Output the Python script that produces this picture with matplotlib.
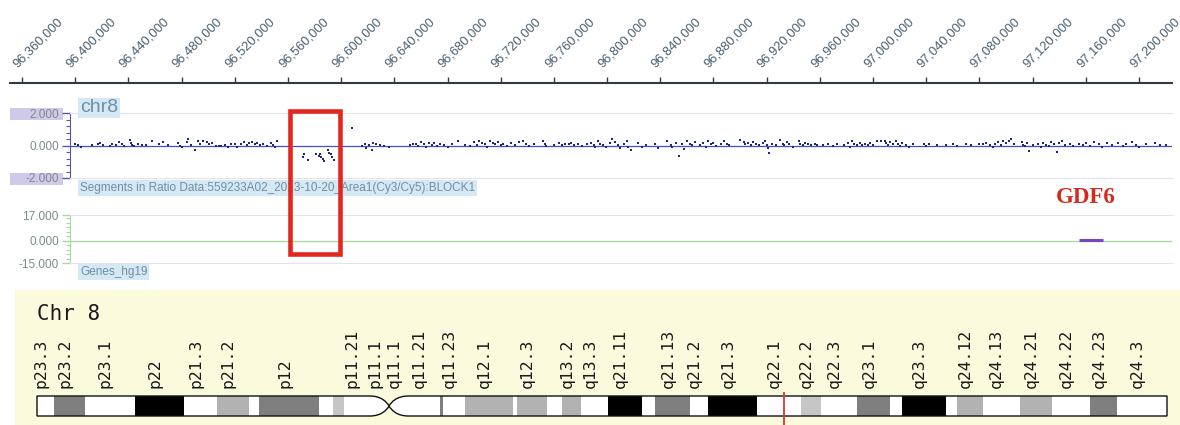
import matplotlib
matplotlib.use("Agg")
import matplotlib.pyplot as plt
from matplotlib.patches import Rectangle, PathPatch
from matplotlib.path import Path
from matplotlib.transforms import blended_transform_factory, ScaledTranslation
from matplotlib.ticker import MultipleLocator, FuncFormatter
import numpy as np

plt.rcParams['font.family'] = ['Liberation Sans', 'DejaVu Sans']

# ---------------------------------------------------------------- data
# genomic ruler (bp)
ruler_ticks = [96360000, 96400000, 96440000, 96480000, 96520000, 96560000,
               96600000, 96640000, 96680000, 96720000, 96760000, 96800000,
               96840000, 96880000, 96920000, 96960000, 97000000, 97040000,
               97080000, 97120000, 97160000, 97200000]
view_bp = (96350976, 97224812)

# log2 ratio probes (position in kb, log2 ratio)
probes_proximal = [
    (96400, 0.12), (96402, 0.05), (96404, -0.10), (96413, 0.02), (96417, 0.10),
    (96419, 0.18), (96421, 0.05), (96426, 0.00), (96428, 0.08), (96431, 0.04),
    (96433, 0.20), (96435, 0.10), (96437, -0.05), (96441, 0.35), (96442, 0.18),
    (96443, 0.05), (96444, -0.05), (96447, 0.12), (96450, 0.06), (96453, 0.02),
    (96458, 0.30), (96463, 0.10), (96466, 0.20), (96470, 0.05), (96477, 0.15),
    (96479, 0.00), (96480, -0.10), (96484, 0.20), (96485, 0.38), (96487, 0.05),
    (96490, -0.30), (96492, 0.28), (96494, 0.12), (96496, 0.30), (96499, 0.22),
    (96501, 0.08), (96503, 0.15), (96506, -0.02), (96508, -0.05), (96510, 0.00),
    (96513, 0.05), (96515, -0.08), (96517, 0.12), (96520, 0.10), (96522, -0.12),
    (96525, 0.08), (96527, 0.20), (96529, 0.05), (96531, 0.15), (96533, 0.20),
    (96535, 0.08), (96537, 0.15), (96539, 0.05), (96541, 0.12), (96544, -0.02),
    (96547, 0.18), (96549, 0.05), (96550, -0.10), (96552, 0.25),
]
probes_deleted = [
    (96571, -0.68), (96572, -0.55), (96575, -0.90), (96581, -0.55), (96583, -0.65),
    (96584, -0.50), (96585, -0.70), (96586, -0.82), (96587, -0.98), (96590, -0.25),
    (96591, -0.45), (96592, -0.55), (96593, -0.68), (96595, -0.90),
]
probes_distal_a = [
    (96608, 1.05), (96616, -0.05), (96618, 0.10), (96619, -0.15), (96621, 0.05),
    (96623, -0.30), (96624, 0.15), (96626, 0.08), (96629, 0.05), (96632, 0.00),
    (96636, -0.08), (96652, 0.05), (96654, 0.12), (96656, 0.08), (96658, -0.05),
    (96660, 0.20), (96662, 0.10), (96664, -0.10), (96666, 0.15), (96668, 0.05),
    (96670, 0.18), (96672, -0.05), (96674, 0.10), (96677, 0.02), (96680, -0.12),
    (96683, 0.08), (96688, 0.30), (96693, 0.02), (96697, -0.05), (96700, 0.20),
    (96702, 0.05), (96704, 0.30), (96706, 0.18), (96708, 0.10), (96710, -0.10),
    (96712, 0.25), (96714, 0.15), (96716, 0.08), (96718, 0.20), (96720, 0.05),
    (96722, 0.12), (96725, -0.05), (96728, 0.15), (96731, 0.05), (96734, 0.20),
    (96737, 0.30), (96739, 0.12), (96741, -0.05), (96745, 0.08), (96752, 0.25),
    (96753, 0.10), (96754, -0.05), (96760, 0.05), (96764, 0.15), (96766, 0.02),
    (96768, 0.10), (96771, 0.08), (96773, 0.15), (96775, 0.05), (96778, 0.12),
    (96781, 0.00), (96785, 0.10), (96788, 0.18), (96790, 0.05), (96791, -0.10),
    (96793, 0.25), (96795, 0.10), (96797, 0.02), (96799, -0.12), (96802, 0.15),
    (96804, 0.40), (96806, 0.20), (96808, 0.05), (96810, -0.15), (96813, 0.10),
    (96815, 0.30), (96816, -0.08), (96818, -0.25), (96823, 0.15), (96826, -0.10),
    (96829, 0.02), (96836, 0.12), (96838, -0.15), (96845, 0.25), (96848, 0.05),
    (96849, -0.10), (96852, 0.15), (96854, -0.67), (96856, 0.08), (96858, -0.20),
    (96860, 0.30), (96862, 0.10), (96864, 0.02), (96866, 0.20), (96870, 0.05),
    (96872, 0.18), (96874, -0.12), (96876, 0.25), (96878, 0.08), (96880, 0.15),
    (96882, -0.05), (96886, 0.10), (96888, 0.28), (96890, 0.12), (96892, 0.05),
    (96900, 0.35), (96903, 0.20), (96904, 0.08), (96906, 0.15), (96908, 0.05),
    (96910, 0.22), (96912, 0.10), (96914, 0.02), (96917, 0.15), (96919, 0.30),
    (96920, 0.05), (96921, -0.15), (96922, -0.45), (96924, 0.12), (96927, 0.05),
    (96930, 0.35), (96932, 0.10), (96933, 0.05),
]
probes_distal_b = [
    (96935, 0.20), (96937, 0.08), (96940, -0.10), (96944, 0.30), (96945, 0.12),
    (96947, 0.05), (96949, 0.15), (96951, 0.08), (96953, 0.02), (96956, 0.10),
    (96958, 0.05), (96962, 0.02), (96966, 0.08), (96970, 0.00), (96973, 0.10),
    (96978, 0.05), (96981, 0.15), (96983, -0.08), (96984, 0.25), (96986, 0.12),
    (96988, 0.05), (96990, 0.18), (96992, 0.02), (96994, 0.10), (96996, 0.06),
    (96998, 0.15), (97000, 0.04), (97003, 0.25), (97006, 0.25), (97009, 0.30),
    (97010, 0.15), (97011, 0.05), (97013, 0.20), (97015, 0.12), (97017, 0.25),
    (97019, 0.10), (97020, -0.05), (97022, 0.15), (97025, 0.05), (97027, -0.08),
    (97030, 0.10), (97038, 0.08), (97040, -0.05), (97042, 0.12), (97048, 0.05),
    (97055, 0.02), (97060, 0.08), (97063, -0.05), (97070, 0.10), (97074, 0.05),
    (97080, 0.12), (97083, 0.08), (97085, 0.15), (97088, 0.05), (97090, -0.10),
    (97092, 0.12), (97094, 0.20), (97096, 0.05), (97098, 0.25), (97100, 0.15),
    (97102, 0.30), (97104, 0.40), (97106, 0.08), (97112, 0.20), (97113, 0.05),
    (97114, -0.05), (97116, 0.15), (97117, -0.35), (97120, 0.05), (97124, 0.10),
    (97126, -0.10), (97128, 0.15), (97130, 0.05), (97132, -0.05), (97134, 0.20),
    (97136, 0.10), (97138, -0.40), (97140, 0.15), (97142, 0.25), (97144, 0.05),
    (97148, 0.12), (97150, -0.02), (97155, 0.10), (97158, 0.05), (97160, 0.15),
    (97163, -0.05), (97166, 0.20), (97170, 0.08), (97172, -0.10), (97176, 0.15),
    (97180, 0.05), (97184, 0.18), (97188, -0.05), (97190, 0.10), (97195, 0.20),
    (97198, 0.05), (97200, -0.10), (97205, 0.08), (97212, 0.15), (97216, 0.02),
    (97220, 0.05),
]
highlight_bp = (96561200, 96599100)

ratio_ticks = [-2, 0, 2]
gene_ticks = [-15, 0, 17]

gene_name = "GDF6"
gene_start = 97154585
gene_end = 97173016

# chr8 cytobands (hg19, Mb)
band_names = ["p23.3", "p23.2", "p23.1", "p22", "p21.3", "p21.2", "p21.1", "p12",
              "p11.23", "p11.22", "p11.21", "p11.1", "q11.1", "q11.21", "q11.22",
              "q11.23", "q12.1", "q12.2", "q12.3", "q13.1", "q13.2", "q13.3",
              "q21.11", "q21.12", "q21.13", "q21.2", "q21.3", "q22.1", "q22.2",
              "q22.3", "q23.1", "q23.2", "q23.3", "q24.11", "q24.12", "q24.13",
              "q24.21", "q24.22", "q24.23", "q24.3"]
band_start = [0.0, 2.2, 6.2, 12.7, 19.0, 23.3, 27.4, 28.8, 36.5, 38.3, 39.7, 43.1,
              45.6, 48.1, 52.2, 52.6, 55.5, 61.6, 62.2, 66.0, 68.0, 70.5, 73.9,
              78.3, 80.1, 84.6, 86.9, 93.3, 99.0, 101.6, 106.2, 110.5, 112.1,
              117.7, 119.2, 122.5, 127.3, 131.5, 136.4, 139.9]
band_end = band_start[1:] + [146.364]
band_stain = ["gneg", "gpos75", "gneg", "gpos100", "gneg", "gpos50", "gneg", "gpos75",
              "gneg", "gpos25", "gneg", "acen", "acen", "gneg", "gpos75", "gneg",
              "gpos50", "gneg", "gpos50", "gneg", "gpos50", "gneg", "gpos100", "gneg",
              "gpos75", "gneg", "gpos100", "gneg", "gpos25", "gneg", "gpos75", "gneg",
              "gpos100", "gneg", "gpos50", "gneg", "gpos50", "gneg", "gpos75", "gneg"]
labeled_bands = ["p23.3", "p23.2", "p23.1", "p22", "p21.3", "p21.2", "p12", "p11.21",
                 "p11.1", "q11.1", "q11.21", "q11.23", "q12.1", "q12.3", "q13.2",
                 "q13.3", "q21.11", "q21.13", "q21.2", "q21.3", "q22.1", "q22.2",
                 "q22.3", "q23.1", "q23.3", "q24.12", "q24.13", "q24.21", "q24.22",
                 "q24.23", "q24.3"]

# ---------------------------------------------------------------- layout helpers
W, H, DPI = 1180, 425, 100
fig = plt.figure(figsize=(W / DPI, H / DPI), dpi=DPI)
fig.patch.set_facecolor("white")


def px_rect(left, top, right, bottom):
    return [left / W, 1 - bottom / H, (right - left) / W, (bottom - top) / H]


RULER_L, TRACK_L, RIGHT = 10, 70, 1172
bp_per_px = (view_bp[1] - view_bp[0]) / (RIGHT - RULER_L)
track_xlim = (view_bp[0] + (TRACK_L - RULER_L) * bp_per_px, view_bp[1])

LABEL_C = "#7c8b8b"
TITLE_C = "#6b90a8"
TITLE_BG = "#d5e8f4"

# ---------------------------------------------------------------- ruler
ax_r = fig.add_axes(px_rect(RULER_L, 60, RIGHT, 83))
ax_r.set_xlim(view_bp)
ax_r.set_ylim(0, 1)
ax_r.patch.set_alpha(0)
for s in ("top", "left", "right"):
    ax_r.spines[s].set_visible(False)
ax_r.spines["bottom"].set_color("#2e3a44")
ax_r.spines["bottom"].set_linewidth(1.5)
ax_r.set_yticks([])
ax_r.set_xticks(ruler_ticks)
ax_r.tick_params(axis="x", direction="in", length=4, width=1, color="#2e3a44",
                 labelbottom=False)
lbl_tr = ax_r.get_xaxis_transform() + ScaledTranslation(-5 / DPI, 15 / DPI, fig.dpi_scale_trans)
for t in ruler_ticks:
    ax_r.text(t, 0, f"{t:,}", transform=lbl_tr, rotation=45, rotation_mode="anchor",
              ha="left", va="baseline", fontsize=9.3, color="#485f70", clip_on=False)

# ---------------------------------------------------------------- ratio track
ax_d = fig.add_axes(px_rect(TRACK_L, 113, RIGHT, 178))
ax_d.set_xlim(track_xlim)
ax_d.set_ylim(-2, 2)
ax_d.set_xticks([])
for s in ("top", "bottom"):
    ax_d.spines[s].set_color("#e3e3ea")
ax_d.spines["right"].set_visible(False)
ax_d.spines["left"].set_color("#5b55a8")
ax_d.set_yticks(ratio_ticks)
ax_d.yaxis.set_minor_locator(MultipleLocator(0.4))
ax_d.yaxis.set_major_formatter(FuncFormatter(lambda v, p: f"{v:.3f}"))
ax_d.tick_params(axis="y", which="major", length=6, width=1, color="#5b55a8",
                 labelsize=8.5, labelcolor=LABEL_C, pad=2)
ax_d.tick_params(axis="y", which="minor", length=3, width=0.8, color="#5b55a8")

ax_d.axhline(0, color="#3f52cc", lw=0.9, zorder=2)
for group in (probes_proximal, probes_deleted, probes_distal_a, probes_distal_b):
    arr = np.array(group)
    ax_d.plot(arr[:, 0] * 1000, arr[:, 1], "s", ms=2.1, mew=0, color="#1b2888",
              zorder=3, clip_on=False)

for top in (108, 173):
    fig.add_artist(Rectangle((10 / W, 1 - (top + 12) / H), 53 / W, 12 / H,
                             transform=fig.transFigure, fc="#d0c9ea", ec="none", zorder=-1))

fig.text(80 / W, 1 - 108 / H, "chr8", fontsize=14, color=TITLE_C, ha="left", va="center",
         bbox=dict(boxstyle="square,pad=0.08", fc=TITLE_BG, ec="none"))
fig.text(80 / W, 1 - 188 / H,
         "Segments in Ratio Data:559233A02_2013-10-20_Area1(Cy3/Cy5):BLOCK1",
         fontsize=8.5, color=TITLE_C, ha="left", va="center",
         bbox=dict(boxstyle="square,pad=0.15", fc=TITLE_BG, ec="none"))

# ---------------------------------------------------------------- gene track
ax_g = fig.add_axes(px_rect(TRACK_L, 215, RIGHT, 263))
ax_g.set_xlim(track_xlim)
ax_g.set_ylim(-15, 17)
ax_g.set_xticks([])
for s in ("top", "bottom"):
    ax_g.spines[s].set_color("#e3e3ea")
ax_g.spines["right"].set_visible(False)
ax_g.spines["left"].set_color("#a8d8a0")
ax_g.set_yticks(gene_ticks)
ax_g.yaxis.set_minor_locator(MultipleLocator(3))
ax_g.yaxis.set_major_formatter(FuncFormatter(lambda v, p: f"{v:.3f}"))
ax_g.tick_params(axis="y", which="major", length=6, width=1, color="#a8d8a0",
                 labelsize=8.5, labelcolor=LABEL_C, pad=2)
ax_g.tick_params(axis="y", which="minor", length=3, width=0.8, color="#a8d8a0")
ax_g.axhline(0, color="#a8d8a0", lw=1.0, zorder=2)
ax_g.hlines(0.5, gene_start, gene_end, color="#7a44c4", lw=2.2, zorder=3)

gene_tr = blended_transform_factory(ax_g.transData, fig.transFigure) + \
    ScaledTranslation(-5 / DPI, 0, fig.dpi_scale_trans)
ax_g.text((gene_start + gene_end) / 2, 1 - 198 / H, gene_name, transform=gene_tr,
          ha="center", va="center", fontsize=16.5, fontweight="bold",
          family="Liberation Serif", color="#d42a1c", clip_on=False)

fig.text(80 / W, 1 - 272 / H, "Genes_hg19", fontsize=8.5, color=TITLE_C, ha="left",
         va="center", bbox=dict(boxstyle="square,pad=0.15", fc=TITLE_BG, ec="none"))

# highlighted region spanning the ratio and gene tracks
hl_tr = blended_transform_factory(ax_d.transData, fig.transFigure)
fig.add_artist(Rectangle((highlight_bp[0], 1 - 253.5 / H), highlight_bp[1] - highlight_bp[0],
                         (253.5 - 110.5) / H, transform=hl_tr, fill=False,
                         ec="#e5261e", lw=3.3, zorder=10))

# ---------------------------------------------------------------- ideogram
CHR_LEN = band_end[-1]
px_per_mb = (1167 - 37) / CHR_LEN
ax_i = fig.add_axes(px_rect(15, 290, W, H))
ax_i.set_facecolor("#fafadc")
ax_i.set_xlim(-(37 - 15) / px_per_mb, CHR_LEN + (W - 1167) / px_per_mb)
ax_i.set_ylim(-(425 - 416) / 20, 1 + (396 - 290) / 20)
ax_i.set_xticks([])
ax_i.set_yticks([])
for s in ax_i.spines.values():
    s.set_visible(False)

stain_color = {"gneg": "#ffffff", "gpos25": "#c6c6c6", "gpos50": "#b2b2b2",
               "gpos75": "#7f7f7f", "gpos100": "#000000", "acen": "#ffffff"}

cen_l = band_start[band_stain.index("acen")]
cen_mid = band_end[band_stain.index("acen")]
cen_r = band_end[len(band_stain) - 1 - band_stain[::-1].index("acen")]
tip = (cen_mid - cen_l)

left_arm = Path(
    [(cen_l, 1), (0, 1), (0, 0), (cen_l, 0),
     (cen_l + 0.6 * tip, 0), (cen_mid - 0.12 * tip, 0.3), (cen_mid, 0.5),
     (cen_mid - 0.12 * tip, 0.7), (cen_l + 0.6 * tip, 1), (cen_l, 1)],
    [Path.MOVETO, Path.LINETO, Path.LINETO, Path.LINETO,
     Path.CURVE4, Path.CURVE4, Path.CURVE4,
     Path.CURVE4, Path.CURVE4, Path.CURVE4])
right_arm = Path(
    [(cen_mid, 0.5), (cen_mid + 0.12 * tip, 0.7), (cen_r - 0.6 * tip, 1), (cen_r, 1),
     (CHR_LEN, 1), (CHR_LEN, 0), (cen_r, 0),
     (cen_r - 0.6 * tip, 0), (cen_mid + 0.12 * tip, 0.3), (cen_mid, 0.5)],
    [Path.MOVETO, Path.CURVE4, Path.CURVE4, Path.CURVE4,
     Path.LINETO, Path.LINETO, Path.LINETO,
     Path.CURVE4, Path.CURVE4, Path.CURVE4])

for arm in (left_arm, right_arm):
    ax_i.add_patch(PathPatch(arm, fc="white", ec="none", zorder=1))
for name, s, e, st in zip(band_names, band_start, band_end, band_stain):
    if st in ("gneg", "acen"):
        continue
    ax_i.add_patch(Rectangle((s, 0), e - s, 1, fc=stain_color[st], ec="none", zorder=2))
for arm in (left_arm, right_arm):
    ax_i.add_patch(PathPatch(arm, fc="none", ec="#111111", lw=1.0, zorder=3))

for name, s, e in zip(band_names, band_start, band_end):
    if name in labeled_bands:
        ax_i.text((s + e) / 2, 1.4, name, rotation=90, rotation_mode="anchor",
                  ha="left", va="baseline", fontsize=11.8, family="DejaVu Sans Mono",
                  color="#1a1a1a")

ax_i.text(0, 4.8, "Chr 8", fontsize=15, family="DejaVu Sans Mono", color="#1a1a1a",
          ha="left", va="baseline")

view_center_mb = (view_bp[0] + view_bp[1]) / 2 / 1e6
ax_i.vlines(view_center_mb, -0.45, 1.2, color="#e0362a", lw=1.3, zorder=4)

fig.savefig("out.png", dpi=DPI, facecolor="white")
